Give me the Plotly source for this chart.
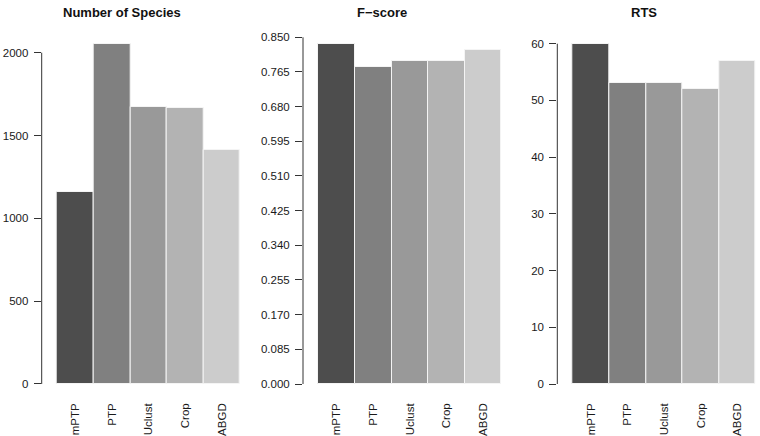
import plotly.graph_objects as go

methods = ["mPTP", "PTP", "Uclust", "Crop", "ABGD"]
bar_colors = ["#4d4d4d", "#808080", "#999999", "#b3b3b3", "#cccccc"]

n_species = [1161, 2051, 1674, 1666, 1411]
f_score = [0.834, 0.777, 0.791, 0.792, 0.820]
rts = [60, 53, 53, 52, 57]

titles = ["Number of Species", "F\u2212score", "RTS"]
species_ticks = [0, 500, 1000, 1500, 2000]
fscore_ticks = [round(i * 0.085, 3) for i in range(11)]
rts_ticks = [0, 10, 20, 30, 40, 50, 60]

W, H = 760, 436
FONT = "Liberation Sans, Arial, Helvetica, sans-serif"
TXT = "#1a1a1a"

panels = [
    dict(vals=n_species, ticks=species_ticks, fmt=lambda v: f"{v:d}",
         yrange=[-60.4, 2100.8], left=41.7, title_x=121.5),
    dict(vals=f_score, ticks=fscore_ticks, fmt=lambda v: f"{v:.3f}",
         yrange=[-0.024517, 0.85318], left=303.0, title_x=381.7),
    dict(vals=rts, ticks=rts_ticks, fmt=lambda v: f"{v:d}",
         yrange=[-1.7632, 61.357], left=557.3, title_x=644.2),
]

unit = 36.6
xr = [-0.92, 4.55]
ydom = [1 - 394 / H, 1 - 36 / H]

fig = go.Figure()
layout = dict(
    width=W, height=H, margin=dict(l=0, r=0, t=0, b=0, autoexpand=False),
    paper_bgcolor="white", plot_bgcolor="white",
    showlegend=False, bargap=0,
    font=dict(family=FONT, size=11.5, color=TXT),
)
shapes = []
annotations = []

for i, p in enumerate(panels):
    k = "" if i == 0 else str(i + 1)
    fig.add_trace(go.Bar(
        x=methods, y=p["vals"],
        marker=dict(color=bar_colors, line=dict(color="#f4f4f4", width=1)),
        xaxis="x" + k, yaxis="y" + k, hoverinfo="x+y",
    ))
    x0 = p["left"]
    x1 = x0 + (xr[1] - xr[0]) * unit
    layout["xaxis" + k] = dict(
        domain=[x0 / W, x1 / W], range=xr, anchor="y" + k,
        showgrid=False, zeroline=False, showline=False,
        ticks="", tickangle=-90, ticklabelstandoff=6, automargin=False,
        tickfont=dict(family=FONT, size=11.5, color=TXT),
        fixedrange=True,
    )
    layout["yaxis" + k] = dict(
        domain=ydom, range=p["yrange"], anchor="x" + k,
        showgrid=False, zeroline=False, showline=False,
        ticks="outside", ticklen=7, tickwidth=1, tickcolor="#333333",
        tickvals=p["ticks"], ticktext=[p["fmt"](v) for v in p["ticks"]],
        ticklabelstandoff=3, automargin=False,
        tickfont=dict(family=FONT, size=11.5, color=TXT),
        fixedrange=True,
    )
    shapes.append(dict(
        type="line", xref=("x" + k) + " domain", yref="y" + k,
        x0=0, x1=0, y0=p["ticks"][0], y1=p["ticks"][-1],
        line=dict(color="#333333", width=1),
    ))
    annotations.append(dict(
        text="<b>" + titles[i] + "</b>", xref="paper", yref="paper",
        x=p["title_x"] / W, y=1 - 12 / H, xanchor="center", yanchor="middle",
        showarrow=False, font=dict(family=FONT, size=13, color="#111111"),
    ))

layout["shapes"] = shapes
layout["annotations"] = annotations
fig.update_layout(**layout)
fig.write_html(
    "out.html",
    config={"displayModeBar": False},
    post_script="document.body.style.margin='0';document.body.style.padding='0';"
                "document.documentElement.style.overflow='hidden';",
)
